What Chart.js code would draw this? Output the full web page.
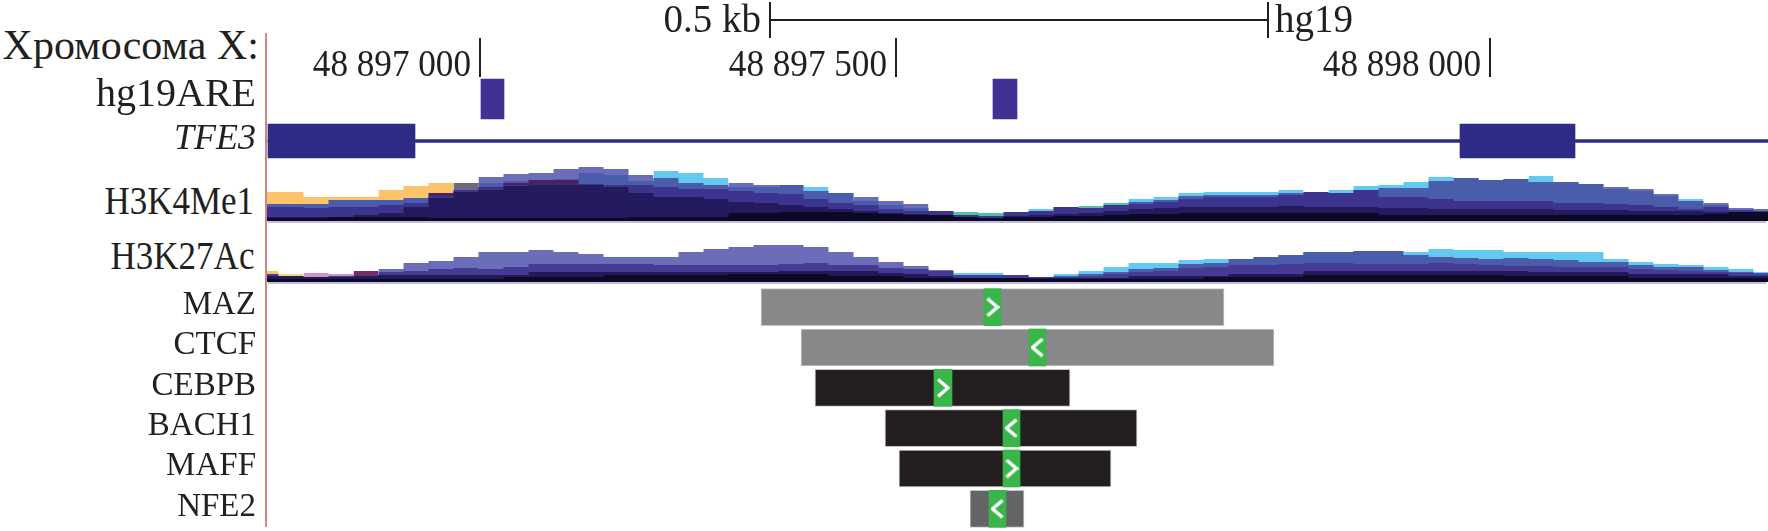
<!DOCTYPE html>
<html lang="ru">
<head>
<meta charset="UTF-8">
<title>TFE3, хромосома X</title>
<script src="https://cdn.jsdelivr.net/npm/chart.js@4.4.1/dist/chart.umd.min.js"></script>
<style>
  html, body { margin: 0; padding: 0; background: #fff; }
  #page { position: relative; width: 1768px; height: 531px; overflow: hidden;
          font-family: "Liberation Serif", "Times New Roman", serif; color: #231f20; }
  .lab { position: absolute; right: 1514px; height: 40px; line-height: 40px; white-space: nowrap;
         text-align: right; transform-origin: right center; }
  .narrow { transform: scaleX(0.875); }
  .box { position: absolute; }
  #axisline { position: absolute; left: 265px; top: 33px; width: 2px; height: 494px; background: #c98a85; z-index: 5; }
  .base { position: absolute; left: 268px; width: 1498px; height: 2px; background: #c3bee0; }
</style>
</head>
<body>
<div id="page">
  <div class="lab" style="top:25px;right:1509px;font-size:42px">Хромосома X:</div>
  <div class="lab narrow" style="top:181px;font-size:40px">H3K4Me1</div>
  <div class="lab narrow" style="top:236px;font-size:40px">H3K27Ac</div>

  <div class="box" style="left:266px;top:0;width:1502px;height:80px"><canvas id="header"></canvas></div>
  <div class="box" style="left:0;top:75px;width:1768px;height:48px"><canvas id="are"></canvas></div>
  <div class="box" style="left:0;top:119px;width:1768px;height:44px"><canvas id="gene"></canvas></div>
  <div class="box" style="left:266px;top:165px;width:1502px;height:56px"><canvas id="me1"></canvas></div>
  <div class="base" style="top:221px"></div>
  <div class="box" style="left:266px;top:242px;width:1502px;height:40px"><canvas id="ac27"></canvas></div>
  <div class="base" style="top:282px"></div>
  <div class="box" style="left:0;top:287px;width:1768px;height:242px"><canvas id="tf"></canvas></div>
  <div id="axisline"></div>
</div>

<script>
// ---- data (x in bp from the left edge of the window, ~1 bp per px) ----
const SPAN = 1502;
const BIN = 25;

// ruler
const coordTicks = [214, 630, 1224];
const coordLabels = ['48 897 000', '48 897 500', '48 898 000'];
const scaleBar = [504, 1002];
const scaleLabel = '0.5 kb';
const assembly = 'hg19';

// hg19ARE
const areStart = [215, 727];
const areEnd = [238, 751];

// TFE3 gene model
const geneSpan = [2, 1502];
const exonStart = [2, 1194];
const exonEnd = [149, 1309];

// H3K4Me1, one value per 25 bp bin, several cell-line layers
const me1Top = [29,29,24,24,24,31,35,38,38,44,
                47,48,52,54,52,46,50,48,43,38,
                36,36,34,28,24,20,17,10,9,8,
                9,12,14,15,18,22,24,28,29,29,
                29,31,29,31,35,36,39,44,43,41,
                42,45,39,37,34,32,27,22,18,13,
                12];
const me1TopLine = 'OOOOOOOOGLLLLLLLBBBLLMBMLLLPTTPBPTTBBBBBBBPBBBBBMMMBMMLLLBLLL';
const me1Mid = [17,17,17,21,21,21,23,25,30,38,
                40,41,42,48,46,40,43,38,36,34,
                34,36,30,28,20,16,13,0,0,0,
                0,0,0,0,0,19,21,25,26,26,
                26,28,27,28,31,33,33,40,43,41,
                42,39,39,37,32,30,25,20,16,11,
                10];
const me1Plum = [0,0,0,0,0,0,0,28,0,34,
                 38,41,41,0,0,0,0,0,0,0,
                 0,0,0,0,0,0,0,0,0,0,
                 0,0,0,0,0,0,0,0,0,0,
                 0,0,0,0,0,0,0,0,0,0,
                 0,0,0,0,0,0,0,0,0,0,
                 0];
const me1Purple = [14,14,13,14,14,16,18,25,31,33,
                   36,36,36,37,36,36,34,32,32,30,
                   28,27,22,18,16,12,10,10,6,5,
                   9,10,14,13,16,17,19,22,24,24,
                   24,26,29,28,31,24,24,22,20,20,
                   20,20,18,18,17,16,14,12,14,11,
                   10];
const me1Navy = [4,4,4,4,6,8,14,23,29,31,
                 35,36,36,36,34,28,24,24,22,19,
                 18,16,14,12,10,8,7,6,4,3,
                 5,6,7,8,10,12,13,14,14,14,
                 14,15,14,14,14,13,13,12,12,12,
                 12,12,11,11,11,10,10,10,9,9,
                 9];
const me1Black = [3,3,3,4,4,4,4,3,3,3,
                  3,3,3,3,3,4,4,4,4,8,
                  8,9,9,9,8,7,6,6,4,3,
                  4,4,5,5,6,7,7,8,8,8,
                  8,8,8,8,8,6,6,6,6,6,
                  6,6,6,6,6,6,6,6,7,9,
                  9];

// H3K27Ac
const ac27Top = [11,8,9,8,11,13,19,21,25,30,
                 30,32,30,28,25,25,25,30,33,35,
                 37,37,35,30,25,20,16,12,9,9,
                 7,5,8,11,15,19,19,22,23,23,
                 25,27,30,30,31,31,30,33,32,32,
                 30,30,30,30,23,20,18,17,15,13,
                 10];
const ac27TopLine = 'OYKKRLLLLLLLLLLLLLLLLLLLLLLLBBPPBBBBBBBMMMMMMMBBBBBBBBBBBBBBB';
const ac27Mid = [0,0,0,0,0,0,0,0,0,0,
                 0,0,0,0,0,0,0,0,0,0,
                 0,0,0,0,0,0,0,0,0,0,
                 0,0,6,8,10,13,14,18,19,23,
                 25,27,30,30,31,31,27,25,24,23,
                 24,23,22,20,20,17,15,15,12,10,
                 9];
const ac27Purple = [8,6,5,6,7,10,11,13,14,13,
                    15,18,18,18,18,18,17,17,17,17,
                    17,18,19,17,17,14,13,11,7,7,
                    7,5,5,6,8,10,11,14,15,17,
                    17,18,19,19,18,18,18,19,18,17,
                    16,16,15,15,15,13,12,11,10,9,
                    8];
const ac27Navy = [6,6,5,5,6,7,7,7,7,7,
                  7,10,10,10,10,10,10,10,10,10,
                  10,11,11,11,11,9,8,6,4,4,
                  4,4,4,4,4,6,6,6,6,8,
                  8,8,11,11,11,11,11,11,11,11,
                  11,10,10,10,10,8,8,8,8,6,
                  6];
const ac27Black = [3,3,3,3,3,3,3,3,3,3,
                   5,5,5,5,7,7,7,7,7,8,
                   8,8,8,6,6,6,4,4,4,4,
                   4,3,3,3,3,3,3,3,5,5,
                   5,5,7,7,7,7,7,7,7,7,
                   6,6,6,6,6,4,4,4,4,4,
                   4];

// transcription factor peaks and motifs
const tfNames = ['MAZ', 'CTCF', 'CEBPB', 'BACH1', 'MAFF', 'NFE2'];
const peakStart = [495, 535, 549, 619, 633, 704];
const peakEnd = [958, 1008, 804, 871, 845, 758];
const motifStart = [718, 763, 668, 737, 737, 723];
const motifEnd = [735, 780, 686, 754, 754, 740];
const motifStrand = ['+', '-', '+', '-', '+', '-'];

// ---- styles ----
const INK = '#231f20';
const FONT = '"Liberation Serif", "Times New Roman", serif';
const cellColours = {
  O: '#fbc46b', Y: '#f6d488', G: '#6c6a7c', L: '#6c6db8', B: '#63c9f1',
  M: '#4a5dab', P: '#3d3490', T: '#50c29c', K: '#cf94c4', R: '#7c2a5f'
};
const peakShade = ['#878889', '#878889', '#231f20', '#231f20', '#231f20', '#636466'];

const quiet = {
  responsive: true, maintainAspectRatio: false, animation: false, events: [],
  layout: { padding: 0, autoPadding: false },
  plugins: { legend: { display: false }, tooltip: { enabled: false } }
};

// left axis that only carries the track name(s); no padding stolen from the plot
function labelAxis(size, italic, offset) {
  return {
    type: 'category', position: 'left',
    afterFit: s => { s.width = 266; s.paddingTop = 0; s.paddingBottom = 0; },
    grid: { display: false, drawTicks: false }, border: { display: false },
    ticks: { color: INK, padding: 10, labelOffset: offset, autoSkip: false,
             font: { family: FONT, size: size, style: italic ? 'italic' : 'normal' } }
  };
}

// ---- ruler ----
function segment(x0, y0, x1, y1, w) {
  return { data: [{ x: x0, y: y0 }, { x: x1, y: y1 }], borderColor: INK, borderWidth: w,
           pointRadius: 0, fill: false };
}

function squeezedText(ctx, text, x, y, size, sx) {
  ctx.save();
  ctx.font = size + 'px ' + FONT;
  ctx.translate(x, y);
  ctx.scale(sx, 1);
  ctx.fillText(text, 0, 0);
  ctx.restore();
}

const rulerText = {
  id: 'rulerText',
  afterDatasetsDraw(chart) {
    const { ctx, scales: { x, y } } = chart;
    ctx.save();
    ctx.fillStyle = INK;
    ctx.textAlign = 'right';
    coordTicks.forEach((p, i) =>
      squeezedText(ctx, coordLabels[i], x.getPixelForValue(p) - 9, y.getPixelForValue(76), 37, 0.95));
    squeezedText(ctx, scaleLabel, x.getPixelForValue(scaleBar[0]) - 9, y.getPixelForValue(32), 39, 1);
    ctx.textAlign = 'left';
    squeezedText(ctx, assembly, x.getPixelForValue(scaleBar[1]) + 7, y.getPixelForValue(32), 39, 1);
    ctx.restore();
  }
};

new Chart(document.getElementById('header'), {
  type: 'line',
  data: { datasets: [
    segment(scaleBar[0], 20, scaleBar[1], 20, 2),
    segment(scaleBar[0], 2, scaleBar[0], 38, 2),
    segment(scaleBar[1], 2, scaleBar[1], 38, 2),
    ...coordTicks.map(p => segment(p, 38, p, 77, 2))
  ] },
  options: { ...quiet,
    scales: { x: { type: 'linear', min: 0, max: SPAN, display: false },
              y: { type: 'linear', min: 0, max: 80, reverse: true, display: false } } },
  plugins: [rulerText]
});

// ---- hg19ARE ----
new Chart(document.getElementById('are'), {
  type: 'bar',
  data: { labels: ['hg19ARE'],
          datasets: areStart.map((s, i) => ({ data: [[s, areEnd[i]]], backgroundColor: '#3f3293',
                                              barThickness: 40, grouped: false })) },
  options: { ...quiet, indexAxis: 'y',
    scales: { x: { type: 'linear', min: 0, max: SPAN, display: false }, y: labelAxis(40, false, -4) } }
});

// ---- TFE3 ----
new Chart(document.getElementById('gene'), {
  type: 'bar',
  data: { labels: ['TFE3'],
          datasets: [
            ...exonStart.map((s, i) => ({ data: [[s, exonEnd[i]]], backgroundColor: '#2e2b87',
                                          barThickness: 34, grouped: false, order: 1 })),
            { data: [geneSpan], backgroundColor: '#2e2b87', barThickness: 3, grouped: false, order: 2 }
          ] },
  options: { ...quiet, indexAxis: 'y',
    scales: { x: { type: 'linear', min: 0, max: SPAN, display: false }, y: labelAxis(36, true, -1) } }
});

// ---- histone signal tracks ----
function histLayer(values, colour, keys) {
  const pts = values.map((v, i) => ({ x: (i - 0.5) * BIN, y: v }));
  pts.push({ x: (values.length - 0.5) * BIN, y: values[values.length - 1] });
  const ds = { data: pts, backgroundColor: colour, borderColor: 'transparent', borderWidth: 0,
               pointRadius: 0, fill: 'origin', stepped: 'before' };
  if (keys) ds.segment = { backgroundColor: c => cellColours[keys[c.p0DataIndex]] };
  return ds;
}

function histChart(id, ymax, layers) {
  // first dataset is drawn in front
  new Chart(document.getElementById(id), {
    type: 'line',
    data: { datasets: layers },
    options: { ...quiet,
      scales: { x: { type: 'linear', min: 0, max: SPAN, display: false },
                y: { min: 0, max: ymax, display: false } } }
  });
}

histChart('me1', 56, [
  histLayer(me1Black, '#0b0923'),
  histLayer(me1Navy, '#231b5d'),
  histLayer(me1Purple, '#3d3490'),
  histLayer(me1Plum, '#4b2363'),
  histLayer(me1Mid, '#4a5dab'),
  histLayer(me1Top, '#6c6db8', me1TopLine.split(''))
]);

histChart('ac27', 40, [
  histLayer(ac27Black, '#0b0923'),
  histLayer(ac27Navy, '#211a58'),
  histLayer(ac27Purple, '#453a94'),
  histLayer(ac27Mid, '#4a5dab'),
  histLayer(ac27Top, '#6c6db8', ac27TopLine.split(''))
]);

// ---- TF peaks ----
function chevron(dir) {
  const c = document.createElement('canvas');
  c.width = 14; c.height = 20;
  const g = c.getContext('2d');
  g.strokeStyle = '#fff'; g.lineWidth = 3.5;
  g.beginPath();
  if (dir > 0) { g.moveTo(2, 1.5); g.lineTo(12, 10); g.lineTo(2, 18.5); }
  else { g.moveTo(12, 1.5); g.lineTo(2, 10); g.lineTo(12, 18.5); }
  g.stroke();
  return c;
}
const arrowRight = chevron(1), arrowLeft = chevron(-1);

new Chart(document.getElementById('tf'), {
  type: 'bar',
  data: {
    labels: tfNames,
    datasets: [
      { type: 'line', showLine: false, order: 0, pointRadius: 6,
        data: tfNames.map((n, i) => ({ x: (motifStart[i] + motifEnd[i]) / 2, y: n })),
        pointStyle: motifStrand.map(s => s === '+' ? arrowRight : arrowLeft) },
      { data: tfNames.map((n, i) => [motifStart[i], motifEnd[i]]), backgroundColor: '#39b54a',
        barThickness: 37, grouped: false, order: 1 },
      { data: tfNames.map((n, i) => [peakStart[i], peakEnd[i]]), backgroundColor: peakShade,
        borderColor: '#c6c6c6', borderWidth: 1, borderSkipped: false,
        barThickness: 37, grouped: false, order: 2 }
    ]
  },
  options: { ...quiet, indexAxis: 'y',
    scales: { x: { type: 'linear', min: 0, max: SPAN, display: false }, y: labelAxis(33, false, -2) } }
});
</script>
</body>
</html>
